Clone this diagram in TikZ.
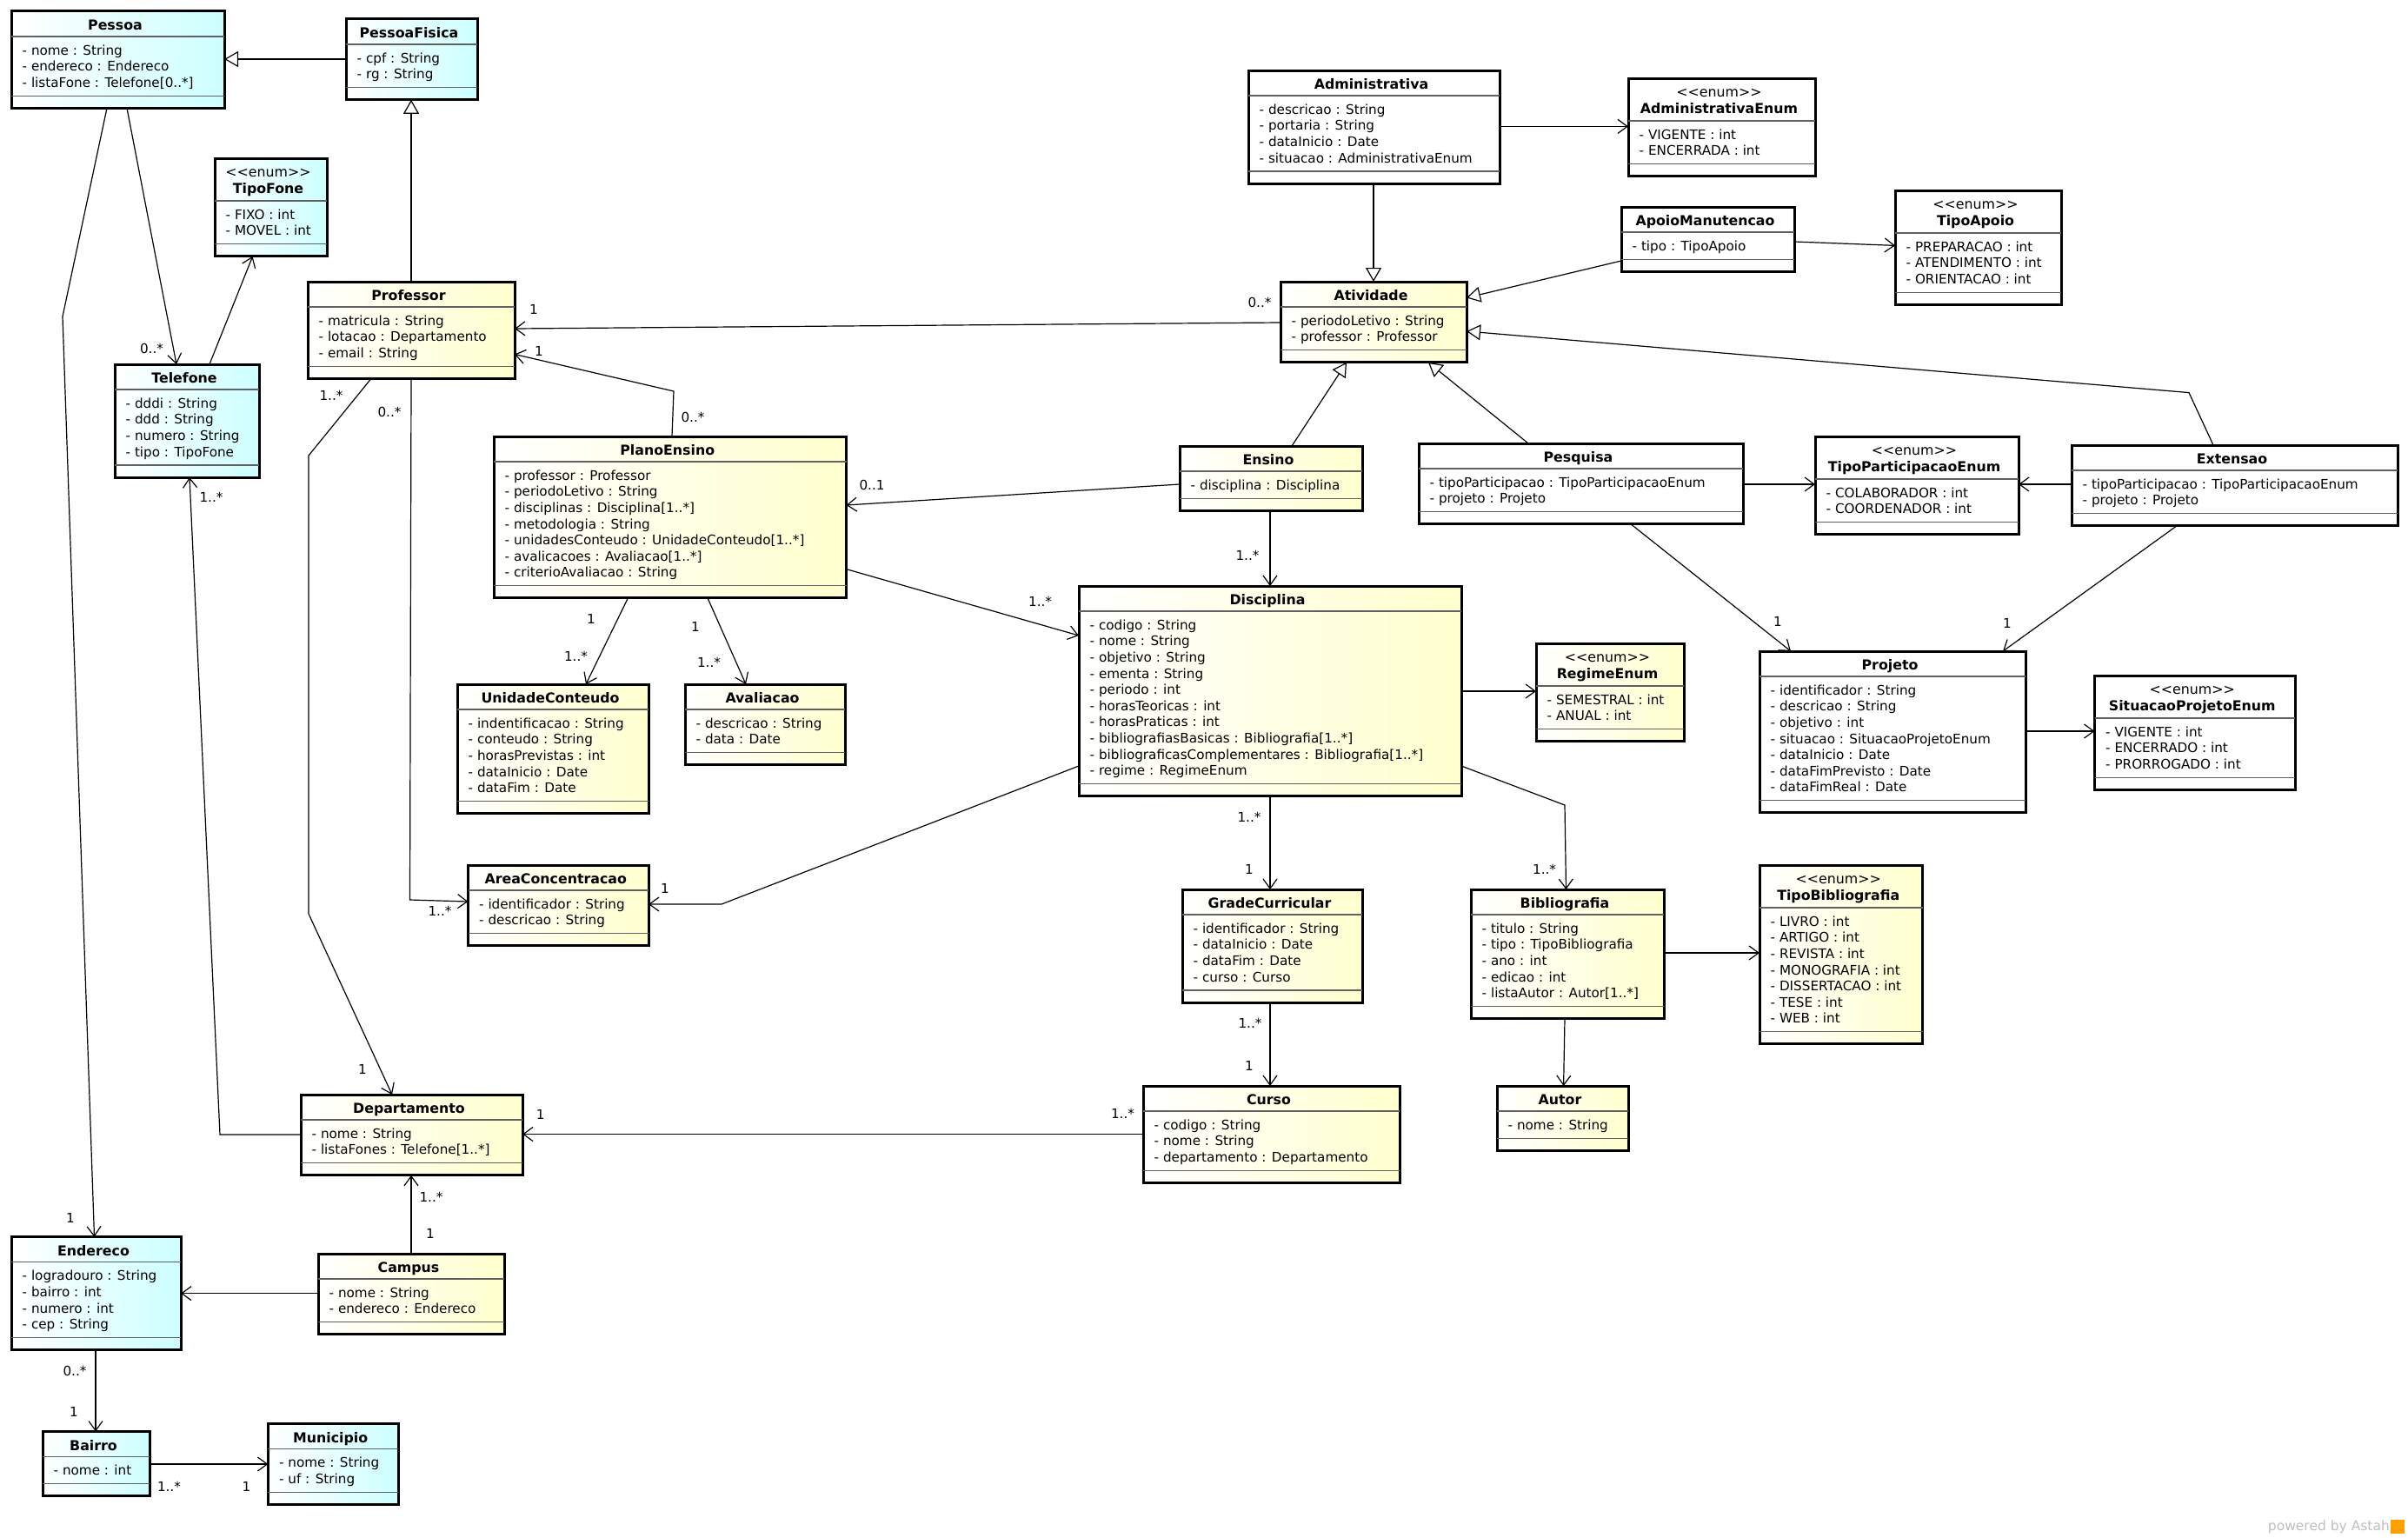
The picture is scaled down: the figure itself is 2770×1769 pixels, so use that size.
\documentclass[tikz,border=0pt]{standalone}
\usepackage{fontspec}
\setmainfont{DejaVu Sans}
\usepackage{tikz}
\usetikzlibrary{arrows.meta,positioning}
\usepackage{xcolor}

\definecolor{cyanend}{RGB}{204,255,255}
\definecolor{yellowend}{RGB}{255,255,206}
\newcommand{\attrsize}{\fontsize{15.2}{18.6}\selectfont}
\newcommand{\titlesize}{\fontsize{15.8}{18.5}\selectfont\bfseries}
\newcommand{\headstrut}{\rule{0pt}{14pt}}
\newcommand{\stereo}[1]{{\mdseries<\kern0pt<#1>\kern0pt>}}
\newcommand{\umlclass}[9]{%
  \pgfmathsetmacro{\clsheight}{#6+26.6+18.6*#7}%
  \node[classbox, #1, minimum width=#5, minimum height=\clsheight, anchor=north west] (#2) at (#3,#4) {};
  \draw[sepline] ([yshift=-#6]#2.north west) -- ([yshift=-#6]#2.north east);
  \draw[sepline] ([yshift=14]#2.south west) -- ([yshift=14]#2.south east);
  \node[titletext] (#2-title) at ([xshift=-3,yshift=-7.5]#2.north) {\headstrut #8};
  \node[attrtext] (#2-attrs) at ([xshift=12.5,yshift=-#6-7]#2.north west) {\headstrut #9};
}

\begin{document}
\begin{tikzpicture}[x=1pt, y=-1pt,
  classbox/.style={draw, line width=3pt, inner sep=0pt, outer sep=0pt},
  cyanbox/.style={left color=white, right color=cyanend},
  yellowbox/.style={left color=white, right color=yellowend},
  whitebox/.style={fill=white},
  sepline/.style={draw=gray!75!black, line width=1.3pt},
  titletext/.style={font=\titlesize, inner sep=0pt, anchor=north, align=center},
  attrtext/.style={font=\attrsize, inner sep=0pt, anchor=north west, align=left},
  assoc/.style={draw, line width=1.2pt, -{Straight Barb[length=11pt, width=16pt]}},
  gen/.style={draw, line width=1.2pt, -{Triangle[open, length=16pt, width=18pt]}},
  mult/.style={font=\attrsize, inner sep=0pt}]

\useasboundingbox[fill=white] (0,0) rectangle (2770,1769);

\umlclass{cyanbox}{pessoa}{13}{13}{245}{29}{3}{Pessoa}{- nome : String\\- endereco : Endereco\\- listaFone : Telefone[0..*]}
\umlclass{cyanbox}{pfisica}{398}{22}{151}{29}{2}{PessoaFisica}{- cpf : String\\- rg : String}
\umlclass{cyanbox}{tipofone}{247}{182}{129}{49}{2}{\stereo{enum}\\TipoFone}{- FIXO : int\\- MOVEL : int}
\umlclass{cyanbox}{telefone}{132}{419}{166}{29}{4}{Telefone}{- dddi : String\\- ddd : String\\- numero : String\\- tipo : TipoFone}
\umlclass{yellowbox}{professor}{354}{324}{238}{29}{3}{Professor}{- matricula : String\\- lotacao : Departamento\\- email : String}
\umlclass{yellowbox}{plano}{568}{502}{405.5}{29}{7}{PlanoEnsino}{- professor : Professor\\- periodoLetivo : String\\- disciplinas : Disciplina[1..*]\\- metodologia : String\\- unidadesConteudo : UnidadeConteudo[1..*]\\- avalicacoes : Avaliacao[1..*]\\- criterioAvaliacao : String}
\umlclass{yellowbox}{unidade}{526}{787}{220}{29}{5}{UnidadeConteudo}{- indentificacao : String\\- conteudo : String\\- horasPrevistas : int\\- dataInicio : Date\\- dataFim : Date}
\umlclass{yellowbox}{avaliacao}{788}{787}{184}{29}{2}{Avaliacao}{- descricao : String\\- data : Date}
\umlclass{yellowbox}{area}{538.5}{995}{207.5}{29}{2}{AreaConcentracao}{- identificador : String\\- descricao : String}
\umlclass{yellowbox}{depto}{346}{1259}{255}{29}{2}{Departamento}{- nome : String\\- listaFones : Telefone[1..*]}
\umlclass{yellowbox}{campus}{366}{1442}{214}{29}{2}{Campus}{- nome : String\\- endereco : Endereco}
\umlclass{cyanbox}{endereco}{13}{1422.6}{195}{29}{4}{Endereco}{- logradouro : String\\- bairro : int\\- numero : int\\- cep : String}
\umlclass{cyanbox}{bairro}{49}{1646.5}{123}{29}{1}{Bairro}{- nome : int}
\umlclass{cyanbox}{municipio}{308.4}{1637.7}{149.6}{29}{2}{Municipio}{- nome : String\\- uf : String}
\umlclass{whitebox}{admin}{1436}{81}{289}{29}{4}{Administrativa}{- descricao : String\\- portaria : String\\- dataInicio : Date\\- situacao : AdministrativaEnum}
\umlclass{whitebox}{adminenum}{1873}{90}{215}{49}{2}{\stereo{enum}\\AdministrativaEnum}{- VIGENTE : int\\- ENCERRADA : int}
\umlclass{whitebox}{apoio}{1865}{238}{199}{29}{1}{ApoioManutencao}{- tipo : TipoApoio}
\umlclass{whitebox}{tipoapoio}{2180}{219}{191}{49}{3}{\stereo{enum}\\TipoApoio}{- PREPARACAO : int\\- ATENDIMENTO : int\\- ORIENTACAO : int}
\umlclass{yellowbox}{atividade}{1473}{324}{214}{29}{2}{Atividade}{- periodoLetivo : String\\- professor : Professor}
\umlclass{yellowbox}{ensino}{1357}{513}{210}{29}{1}{Ensino}{- disciplina : Disciplina}
\umlclass{whitebox}{pesquisa}{1632}{510}{373}{29}{2}{Pesquisa}{- tipoParticipacao : TipoParticipacaoEnum\\- projeto : Projeto}
\umlclass{whitebox}{tipopart}{2088}{502}{234}{49}{2}{\stereo{enum}\\TipoParticipacaoEnum}{- COLABORADOR : int\\- COORDENADOR : int}
\umlclass{whitebox}{extensao}{2383}{512}{375}{29}{2}{Extensao}{- tipoParticipacao : TipoParticipacaoEnum\\- projeto : Projeto}
\umlclass{yellowbox}{disciplina}{1241}{674}{440}{29}{10}{Disciplina}{- codigo : String\\- nome : String\\- objetivo : String\\- ementa : String\\- periodo : int\\- horasTeoricas : int\\- horasPraticas : int\\- bibliografiasBasicas : Bibliografia[1..*]\\- bibliograficasComplementares : Bibliografia[1..*]\\- regime : RegimeEnum}
\umlclass{yellowbox}{regime}{1767}{740}{170}{49}{2}{\stereo{enum}\\RegimeEnum}{- SEMESTRAL : int\\- ANUAL : int}
\umlclass{whitebox}{projeto}{2024}{749}{306}{29}{7}{Projeto}{- identificador : String\\- descricao : String\\- objetivo : int\\- situacao : SituacaoProjetoEnum\\- dataInicio : Date\\- dataFimPrevisto : Date\\- dataFimReal : Date}
\umlclass{whitebox}{situacao}{2409.5}{777}{230.5}{49}{3}{\stereo{enum}\\SituacaoProjetoEnum}{- VIGENTE : int\\- ENCERRADO : int\\- PRORROGADO : int}
\umlclass{yellowbox}{grade}{1360}{1023}{207}{29}{4}{GradeCurricular}{- identificador : String\\- dataInicio : Date\\- dataFim : Date\\- curso : Curso}
\umlclass{yellowbox}{biblio}{1692}{1023}{222}{29}{5}{Bibliografia}{- titulo : String\\- tipo : TipoBibliografia\\- ano : int\\- edicao : int\\- listaAutor : Autor[1..*]}
\umlclass{yellowbox}{tipobib}{2024}{995}{187.5}{49}{7}{\stereo{enum}\\TipoBibliografia}{- LIVRO : int\\- ARTIGO : int\\- REVISTA : int\\- MONOGRAFIA : int\\- DISSERTACAO : int\\- TESE : int\\- WEB : int}
\umlclass{yellowbox}{curso}{1315}{1249}{295}{29}{3}{Curso}{- codigo : String\\- nome : String\\- departamento : Departamento}
\umlclass{yellowbox}{autor}{1722}{1249}{151}{29}{1}{Autor}{- nome : String}

\draw[gen] ([yshift=-46]pfisica.north west) -- ([yshift=-55]pessoa.north east);
\draw[gen] ([xshift=119]professor.north west) -- ([xshift=75]pfisica.south west);
\draw[gen] ([xshift=144]admin.south west) -- ([xshift=107]atividade.north west);
\draw[gen] ([yshift=-62]apoio.north west) -- ([yshift=-18.5]atividade.north east);
\draw[gen] ([xshift=163]extensao.north west) -- (2518,451.6) -- ([yshift=-57]atividade.north east);
\draw[gen] ([xshift=129]ensino.north west) -- ([xshift=76]atividade.south west);
\draw[gen] ([xshift=126]pesquisa.north west) -- ([xshift=170]atividade.south west);

\draw[assoc] ([xshift=133]pessoa.south west) -- ([xshift=71]telefone.north west);
\draw[assoc] ([xshift=110]pessoa.south west) -- (72,364) -- ([xshift=95.5]endereco.north west);
\draw[assoc] ([xshift=109]telefone.north west) -- ([xshift=43.6]tipofone.south west);
\draw[assoc] ([yshift=-47]atividade.north west) -- ([yshift=-54]professor.north east);
\draw[assoc] ([xshift=205]plano.north west) -- (775,450) -- ([yshift=-83.5]professor.north east);
\draw[assoc] ([xshift=73]professor.south west) -- (355,524) -- (355,1051) -- ([xshift=105]depto.north west);
\draw[assoc] ([xshift=119]professor.south west) -- (471.5,1035) -- ([yshift=-42]area.north west);
\draw[assoc] ([yshift=-46]depto.north west) -- (253,1305) -- ([xshift=86]telefone.south west);
\draw[assoc] ([yshift=-64.4]admin.north east) -- ([yshift=-55.4]adminenum.north west);
\draw[assoc] ([yshift=-40]apoio.north east) -- ([yshift=-63.4]tipoapoio.north west);
\draw[assoc] ([yshift=-44]ensino.north west) -- ([yshift=-79]plano.north east);
\draw[assoc] ([xshift=104]ensino.south west) -- ([xshift=220]disciplina.north west);
\draw[assoc] ([yshift=-152.6]plano.north east) -- ([yshift=-57]disciplina.north west);
\draw[assoc] ([xshift=154.4]plano.south west) -- ([xshift=148]unidade.north west);
\draw[assoc] ([xshift=246]plano.south west) -- ([xshift=70]avaliacao.north west);
\draw[assoc] ([yshift=-47]pesquisa.north east) -- ([yshift=-55]tipopart.north west);
\draw[assoc] ([yshift=-45]extensao.north west) -- ([yshift=-55]tipopart.north east);
\draw[assoc] ([xshift=244]pesquisa.south west) -- ([xshift=36]projeto.north west);
\draw[assoc] ([xshift=121]extensao.south west) -- ([xshift=280]projeto.north west);
\draw[assoc] ([yshift=-92]projeto.north east) -- ([yshift=-64]situacao.north west);
\draw[assoc] ([yshift=-121]disciplina.north east) -- ([yshift=-55]regime.north west);
\draw[assoc] ([yshift=-207]disciplina.north west) -- (830,1040) -- ([yshift=-45]area.north east);
\draw[assoc] ([xshift=220]disciplina.south west) -- ([xshift=101]grade.north west);
\draw[assoc] ([yshift=-207]disciplina.north east) -- (1800,926) -- ([xshift=109.5]biblio.north west);
\draw[assoc] ([xshift=101]grade.south west) -- ([xshift=146]curso.north west);
\draw[assoc] ([yshift=-55.5]curso.north west) -- ([yshift=-45.5]depto.north east);
\draw[assoc] ([xshift=108]biblio.south west) -- ([xshift=76.6]autor.north west);
\draw[assoc] ([yshift=-73]biblio.north east) -- ([yshift=-101]tipobib.north west);
\draw[assoc] ([xshift=107]campus.north west) -- ([xshift=127]depto.south west);
\draw[assoc] ([yshift=-45.6]campus.north west) -- ([yshift=-65]endereco.north east);
\draw[assoc] ([xshift=97]endereco.south west) -- ([xshift=61]bairro.north west);
\draw[assoc] ([yshift=-37.5]bairro.north east) -- ([yshift=-46.3]municipio.north west);

\node[mult] (m-pt) at (174.5,401) {0..*};
\node[mult] (m-pe) at (81,1401) {1};
\node[mult] (m-ap1) at (614,356) {1};
\node[mult] (m-ap2) at (1449,348) {0..*};
\node[mult] (m-pp1) at (620,404) {1};
\node[mult] (m-pp2) at (797,479.5) {0..*};
\node[mult] (m-pd1) at (381,455) {1..*};
\node[mult] (m-pd2) at (417,1230) {1};
\node[mult] (m-pa1) at (448,474) {0..*};
\node[mult] (m-pa2) at (506,1048) {1..*};
\node[mult] (m-dt) at (243,572) {1..*};
\node[mult] (m-ep) at (1003,557.5) {0..1};
\node[mult] (m-ed) at (1435,639) {1..*};
\node[mult] (m-pdi) at (1196.6,691.8) {1..*};
\node[mult] (m-pu1) at (680,712) {1};
\node[mult] (m-pu2) at (662.5,755) {1..*};
\node[mult] (m-pav1) at (800,720.5) {1};
\node[mult] (m-pav2) at (815.5,761.8) {1..*};
\node[mult] (m-pq) at (2045,715) {1};
\node[mult] (m-ex) at (2309,716.6) {1};
\node[mult] (m-da) at (765,1022) {1};
\node[mult] (m-dg1) at (1437,940) {1..*};
\node[mult] (m-dg2) at (1437,1000) {1};
\node[mult] (m-db) at (1776.6,1000) {1..*};
\node[mult] (m-gc1) at (1438,1177) {1..*};
\node[mult] (m-gc2) at (1437,1226) {1};
\node[mult] (m-cd1) at (1291.5,1281) {1..*};
\node[mult] (m-cd2) at (621.6,1282) {1};
\node[mult] (m-ca1) at (496,1377) {1..*};
\node[mult] (m-ca2) at (495,1419) {1};
\node[mult] (m-eb1) at (86,1577) {0..*};
\node[mult] (m-eb2) at (85,1624) {1};
\node[mult] (m-bm1) at (194.5,1709.6) {1..*};
\node[mult] (m-bm2) at (283.5,1709.6) {1};

\node[font=\fontsize{15.5}{18}\selectfont, text=gray!50, inner sep=0pt, anchor=east] (astah) at (2749,1756) {powered by Astah};
\node[fill=orange!75!yellow, minimum size=16pt, inner sep=0pt, anchor=west] (astahlogo) at ([xshift=1]astah.east) {};
\end{tikzpicture}
\end{document}
